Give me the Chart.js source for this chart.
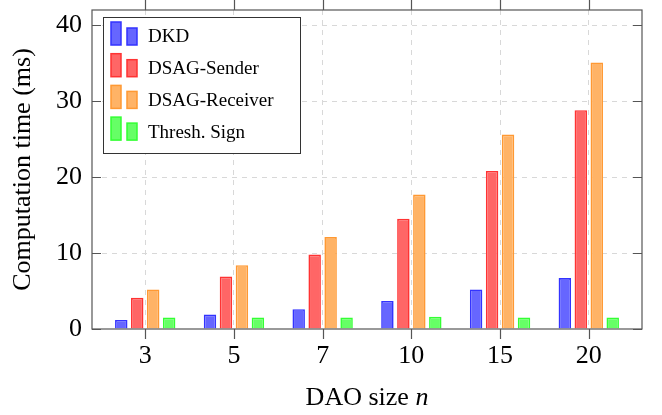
<!DOCTYPE html>
<html>
<head>
<meta charset="utf-8">
<script src="https://cdn.jsdelivr.net/npm/chart.js@4/dist/chart.umd.min.js"></script>
<style>
html,body{margin:0;padding:0;background:#fff;}
#wrap{width:662px;height:415px;}
</style>
</head>
<body>
<div id="wrap"><canvas id="c" width="662" height="415"></canvas></div>
<script>
const categories = ['3', '5', '7', '10', '15', '20'];
const dkd = [1.2, 1.9, 2.6, 3.7, 5.2, 6.7];
const dsagSender = [4.1, 6.9, 9.8, 14.5, 20.8, 28.8];
const dsagReceiver = [5.2, 8.4, 12.1, 17.7, 25.6, 35.1];
const threshSign = [1.5, 1.5, 1.5, 1.6, 1.5, 1.5];
const yTicks = [0, 10, 20, 30, 40];

const FONT = 'Liberation Serif';
const toPts = arr => arr.map((v, i) => ({x: i, y: v}));

const series = [
  {label: 'DKD', data: dkd, fill: '#6666ff', stroke: '#3333ff'},
  {label: 'DSAG-Sender', data: dsagSender, fill: '#ff6666', stroke: '#ff3333'},
  {label: 'DSAG-Receiver', data: dsagReceiver, fill: '#ffb366', stroke: '#ff9933'},
  {label: 'Thresh. Sign', data: threshSign, fill: '#66ff66', stroke: '#33ff33'}
];

const framePlugin = {
  id: 'frame',
  afterDraw(chart) {
    const ctx = chart.ctx;
    const a = chart.chartArea;
    const xs = chart.scales.x, ys = chart.scales.y;
    ctx.save();
    ctx.strokeStyle = '#555';
    ctx.lineWidth = 1.2;
    ctx.strokeRect(a.left, a.top, a.right - a.left, a.bottom - a.top);
    ctx.beginPath();
    xs.ticks.forEach(t => {
      const px = Math.round(xs.getPixelForValue(t.value)) + 0.5;
      ctx.moveTo(px, a.top - 10); ctx.lineTo(px, a.top);
      ctx.moveTo(px, a.bottom); ctx.lineTo(px, a.bottom + 10);
    });
    ys.ticks.forEach(t => {
      const py = Math.round(ys.getPixelForValue(t.value)) + 0.5;
      ctx.moveTo(a.left, py); ctx.lineTo(a.left + 9, py);
      ctx.moveTo(a.right - 9, py); ctx.lineTo(a.right, py);
    });
    ctx.stroke();

    // x axis title
    ctx.fillStyle = '#000';
    ctx.textBaseline = 'alphabetic';
    const t1 = 'DAO size ', t2 = 'n';
    ctx.font = '26px "' + FONT + '"';
    const w1 = ctx.measureText(t1).width;
    ctx.font = 'italic 26px "' + FONT + '"';
    const w2 = ctx.measureText(t2).width;
    const cx = (a.left + a.right) / 2;
    const x0 = cx - (w1 + w2) / 2;
    ctx.font = '26px "' + FONT + '"';
    ctx.fillText(t1, x0, 405);
    ctx.font = 'italic 26px "' + FONT + '"';
    ctx.fillText(t2, x0 + w1, 405);

    // legend
    const L = {x: 103, y: 17, w: 197, h: 136};
    ctx.fillStyle = '#fff';
    ctx.fillRect(L.x, L.y, L.w, L.h);
    ctx.strokeStyle = '#333';
    ctx.lineWidth = 1;
    ctx.strokeRect(L.x + 0.5, L.y + 0.5, L.w, L.h);
    chart.data.datasets.forEach((ds, i) => {
      const cy = 37.5 + i * 31.7;
      ctx.fillStyle = ds.backgroundColor;
      ctx.strokeStyle = ds.borderColor;
      ctx.lineWidth = 1.5;
      ctx.fillRect(111, cy - 15.5, 10, 23);
      ctx.strokeRect(111, cy - 15.5, 10, 23);
      ctx.fillRect(127, cy - 9.5, 10, 17);
      ctx.strokeRect(127, cy - 9.5, 10, 17);
      ctx.fillStyle = '#000';
      ctx.font = '19px "' + FONT + '"';
      ctx.textBaseline = 'middle';
      ctx.fillText(ds.label, 148, cy);
    });
    ctx.restore();
  }
};

new Chart(document.getElementById('c'), {
  type: 'bar',
  data: {
    datasets: series.map(s => ({
      label: s.label,
      data: toPts(s.data),
      backgroundColor: s.fill,
      borderColor: s.stroke,
      borderWidth: 1.6,
      categoryPercentage: 0.72,
      barPercentage: 0.78
    }))
  },
  options: {
    responsive: false,
    animation: false,
    devicePixelRatio: 1,
    layout: {padding: {top: 10, right: 20, left: 0, bottom: 0}},
    plugins: {legend: {display: false}, tooltip: {enabled: false}},
    scales: {
      x: {
        type: 'linear',
        bounds: 'data',
        offset: false,
        min: -0.6,
        max: 5.6,
        afterFit(s) { s.height = 86; s.paddingLeft = 0; s.paddingRight = 0; },
        afterBuildTicks(s) { s.ticks = categories.map((c, i) => ({value: i})); },
        ticks: {
          autoSkip: false,
          includeBounds: false,
          stepSize: 1,
          maxRotation: 0,
          padding: 12,
          color: '#000',
          font: {family: FONT, size: 26},
          callback: v => categories[v]
        },
        grid: {offset: false, color: '#d8d8d8', lineWidth: 1, drawTicks: false},
        border: {display: false, dash: [5, 5]}
      },
      y: {
        type: 'linear',
        bounds: 'data',
        min: 0,
        max: 42,
        afterFit(s) { s.width = 92; s.paddingTop = 0; s.paddingBottom = 0; },
        afterBuildTicks(s) { s.ticks = yTicks.map(v => ({value: v})); },
        ticks: {
          includeBounds: false,
          stepSize: 10,
          padding: 10,
          color: '#000',
          font: {family: FONT, size: 26}
        },
        grid: {
          color: c => (c.tick && c.tick.value === 0) ? 'rgba(0,0,0,0)' : '#d8d8d8',
          lineWidth: 1,
          drawTicks: false
        },
        border: {display: false, dash: [5, 5]},
        title: {
          display: true,
          text: 'Computation time (ms)',
          color: '#000',
          font: {family: FONT, size: 26, lineHeight: 1.2},
          padding: {top: 8, bottom: 0}
        }
      }
    }
  },
  plugins: [framePlugin]
});
</script>
</body>
</html>
